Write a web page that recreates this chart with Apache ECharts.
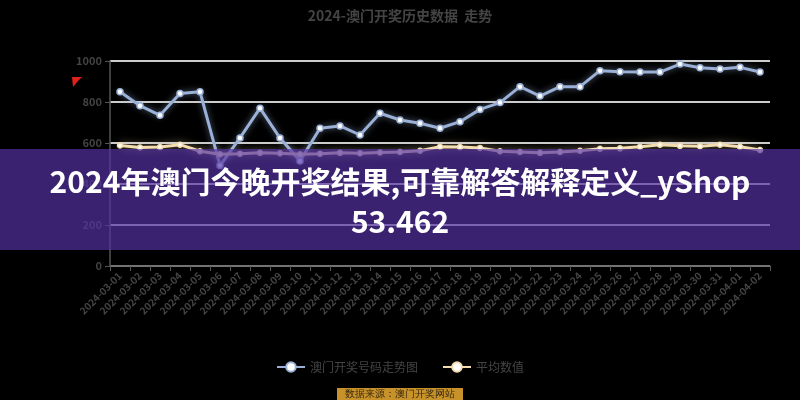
<!DOCTYPE html>
<html><head><meta charset="utf-8">
<script src="https://cdn.jsdelivr.net/npm/echarts@6/dist/echarts.min.js"></script>
<style>
html,body{margin:0;padding:0;background:#000;}
#c{width:800px;height:400px;}
#banner{position:absolute;left:0;top:149px;width:800px;height:101px;background:rgba(85,50,165,0.68);color:#fff;font-family:"Noto Sans CJK SC","Noto Sans",sans-serif;font-weight:bold;font-size:30px;line-height:40px;text-align:center;padding-top:11px;box-sizing:border-box;}
</style></head>
<body>
<div id="c"></div>
<div id="banner">2024年澳门今晚开奖结果,可靠解答解释定义_yShop<br>53.462</div>
<script>
const categories = ["2024-03-01","2024-03-02","2024-03-03","2024-03-04","2024-03-05","2024-03-06","2024-03-07","2024-03-08","2024-03-09","2024-03-10","2024-03-11","2024-03-12","2024-03-13","2024-03-14","2024-03-15","2024-03-16","2024-03-17","2024-03-18","2024-03-19","2024-03-20","2024-03-21","2024-03-22","2024-03-23","2024-03-24","2024-03-25","2024-03-26","2024-03-27","2024-03-28","2024-03-29","2024-03-30","2024-03-31","2024-04-01","2024-04-02"];
const seriesA = [850,782,735,842,850,490,625,770,624,512,672,683,639,745,712,696,672,704,764,797,875,829,875,875,953,948,946,946,985,967,961,969,946];
const seriesB = [588,578,580,592,560,545,548,552,550,545,548,552,550,554,556,562,582,580,576,560,556,552,556,562,572,574,582,592,586,584,592,582,566];
const yTicks = [0,200,400,600,800,1000];
const seriesNames = ["澳门开奖号码走势图","平均数值"];

const chart = echarts.init(document.getElementById('c'));
chart.setOption({
  backgroundColor:'#000',
  animation:false,
  textStyle:{fontFamily:'"Noto Sans CJK SC","Noto Sans",sans-serif'},
  title:{text:'2024-澳门开奖历史数据  走势',left:'center',top:4,textStyle:{color:'#444',fontSize:14,fontWeight:'bold'}},
  legend:{bottom:22,itemGap:24,itemWidth:28,itemHeight:12,textStyle:{color:'#444',fontSize:12},data:seriesNames},
  grid:{left:110,right:30,top:61,bottom:134},
  xAxis:{type:'category',data:categories,boundaryGap:true,
    axisLine:{lineStyle:{color:'#555',width:1.5}},
    axisTick:{show:true,lineStyle:{color:'#555'}},
    axisLabel:{color:'#444',fontSize:10,rotate:45,interval:0,margin:8,fontWeight:'bold'}},
  yAxis:{type:'value',min:yTicks[0],max:yTicks[yTicks.length-1],interval:200,
    axisLine:{show:true,lineStyle:{color:'#555',width:1.5}},
    axisTick:{show:true,lineStyle:{color:'#555'}},
    axisLabel:{color:'#444',fontSize:11,fontWeight:'bold',formatter:function(v){return String(v);}},
    splitLine:{lineStyle:{color:'#ccc',width:2}}},
  series:[
    {name:seriesNames[0],type:'line',data:seriesA,symbol:'circle',symbolSize:6,
     lineStyle:{color:'#9ab0d6',width:3,shadowColor:'rgba(154,176,214,0.6)',shadowBlur:6},
     itemStyle:{color:'#fff',borderColor:'#9ab0d6',borderWidth:1.5}},
    {name:seriesNames[1],type:'line',data:seriesB,symbol:'circle',symbolSize:5,
     lineStyle:{color:'#f3dcae',width:3,shadowColor:'rgba(243,220,174,0.7)',shadowBlur:8},
     itemStyle:{color:'#fff',borderColor:'#f3dcae',borderWidth:1.5}}
  ],
  graphic:[
    {type:'polygon',shape:{points:[[72,77],[82,77],[78,81],[73,87]]},style:{fill:'#e0201a'}},
    {type:'text',left:'center',bottom:0,style:{text:'数据来源：澳门开奖网站',fill:'#3a2a10',fontSize:10,backgroundColor:'#c8922a',padding:[1,8]}}
  ]
});
</script>
</body></html>
